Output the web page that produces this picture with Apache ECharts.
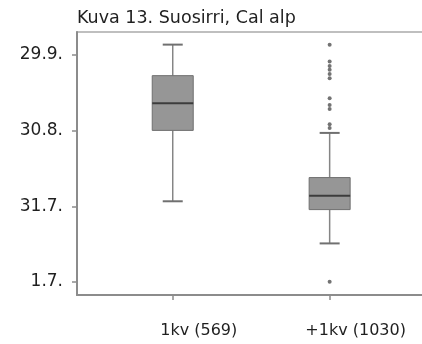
<!DOCTYPE html>
<html>
<head>
<meta charset="utf-8">
<script src="https://cdn.jsdelivr.net/npm/echarts@6/dist/echarts.min.js"></script>
<style>
  html, body { margin: 0; padding: 0; background: #ffffff; }
  #chart { width: 422px; height: 344px; }
</style>
</head>
<body>
<div id="chart"></div>
<script>
// Dates are counted in days from 1 July (1.7. = 0).
const categories = ['1kv (569)', '+1kv (1030)'];
const categoryPositions = [1, 2];
const tickValues = [0, 30, 60, 90];
const tickLabels = ['1.7.', '31.7.', '30.8.', '29.9.'];

// Box statistics per age class: [lower whisker, Q1, median, Q3, upper whisker]
const stats1kv = [32.0, 60.1, 70.9, 81.8, 94.1];
const statsAdult = [15.3, 28.7, 34.2, 41.4, 59.1];

// Outlying observations of the +1kv class
const outliersAdult = [94.0, 87.4, 85.6, 84.1, 82.5, 80.8, 72.8, 70.2, 68.6, 62.5, 61.0, 0.1];

const boxData = [
  [categoryPositions[0]].concat(stats1kv),
  [categoryPositions[1]].concat(statsAdult)
];
const outlierData = outliersAdult.map(v => [categoryPositions[1], v]);

const FONT = 'DejaVu Sans';
const TEXT = '#1f1f1f';
const chart = echarts.init(document.getElementById('chart'));

function renderBox(params, api) {
  const x = api.value(0);
  const pLo = api.coord([x, api.value(1)]);
  const pQ1 = api.coord([x, api.value(2)]);
  const pMed = api.coord([x, api.value(3)]);
  const pQ3 = api.coord([x, api.value(4)]);
  const pHi = api.coord([x, api.value(5)]);
  const cx = pLo[0];
  const half = 20.5;
  const cap = 10;
  const whisker = { stroke: '#858585', lineWidth: 1.5 };
  return {
    type: 'group',
    children: [
      { type: 'line', shape: { x1: cx, y1: pHi[1], x2: cx, y2: pQ3[1] }, style: whisker },
      { type: 'line', shape: { x1: cx, y1: pQ1[1], x2: cx, y2: pLo[1] }, style: whisker },
      { type: 'line', shape: { x1: cx - cap, y1: pHi[1], x2: cx + cap, y2: pHi[1] }, style: { stroke: '#707070', lineWidth: 2 } },
      { type: 'line', shape: { x1: cx - cap, y1: pLo[1], x2: cx + cap, y2: pLo[1] }, style: { stroke: '#707070', lineWidth: 2 } },
      { type: 'rect', shape: { x: cx - half, y: pQ3[1], width: half * 2, height: pQ1[1] - pQ3[1] },
        style: { fill: '#969696', stroke: '#6f6f6f', lineWidth: 1 } },
      { type: 'line', shape: { x1: cx - half, y1: pMed[1], x2: cx + half, y2: pMed[1] },
        style: { stroke: '#3c3c3c', lineWidth: 2 } }
    ]
  };
}

chart.setOption({
  animation: false,
  backgroundColor: '#ffffff',
  title: {
    text: 'Kuva 13. Suosirri, Cal alp',
    left: 77,
    top: 9,
    padding: 0,
    textStyle: { fontFamily: FONT, fontSize: 17.5, fontWeight: 'normal', color: TEXT }
  },
  grid: {
    left: 77, right: -12, top: 32, bottom: 49,
    show: true, borderColor: '#ababab', borderWidth: 1.5,
    outerBoundsMode: 'none'
  },
  xAxis: {
    type: 'value',
    min: 0.39,
    max: 2.665,
    splitLine: { show: false },
    axisLine: { onZero: false, lineStyle: { color: '#8c8c8c', width: 2 } },
    axisTick: { show: true, customValues: categoryPositions, length: 5, lineStyle: { color: '#8c8c8c', width: 1.5 } },
    axisLabel: {
      customValues: categoryPositions,
      formatter: v => categories[categoryPositions.indexOf(v)],
      margin: 28,
      padding: [0, 0, 0, 52],
      fontFamily: FONT, fontSize: 16, color: TEXT
    }
  },
  yAxis: {
    type: 'value',
    min: -5.15,
    max: 99.1,
    splitLine: { show: false },
    axisLine: { show: true, onZero: false, lineStyle: { color: '#8c8c8c', width: 2 } },
    axisTick: { show: true, customValues: tickValues, length: 5, lineStyle: { color: '#8c8c8c', width: 1.5 } },
    axisLabel: {
      customValues: tickValues,
      formatter: v => tickLabels[tickValues.indexOf(v)],
      margin: 14,
      fontFamily: FONT, fontSize: 17, color: TEXT
    }
  },
  series: [
    {
      type: 'custom',
      renderItem: renderBox,
      encode: { x: 0, y: [1, 2, 3, 4, 5] },
      data: boxData,
      z: 2
    },
    {
      type: 'scatter',
      symbol: 'circle',
      symbolSize: 4,
      itemStyle: { color: '#505050' },
      data: outlierData,
      z: 3
    }
  ]
});
</script>
</body>
</html>
